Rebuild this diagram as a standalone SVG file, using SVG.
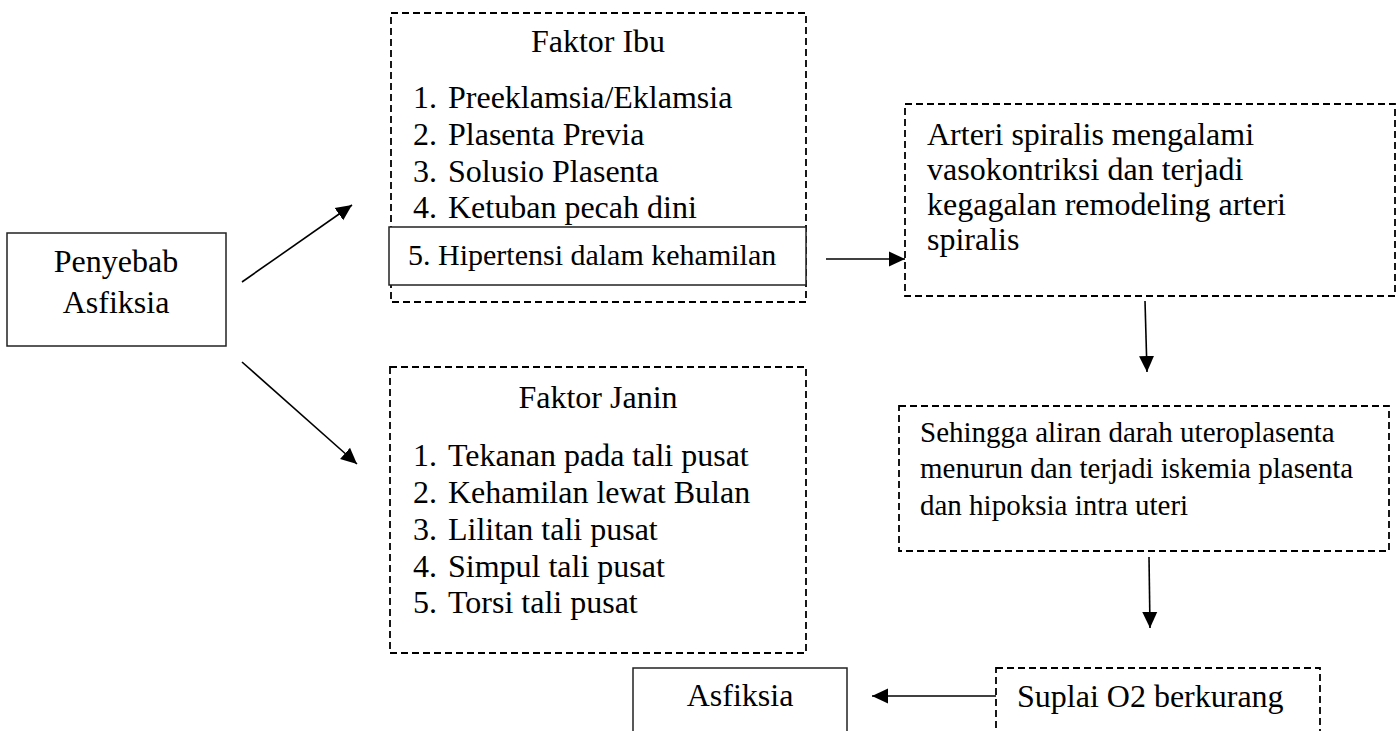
<svg xmlns="http://www.w3.org/2000/svg" width="1398" height="731" viewBox="0 0 1398 731">
<style>
text{font-family:"Liberation Serif","Times New Roman",serif;fill:#000;font-size:32px}
.dash{fill:none;stroke:#000;stroke-width:1.8;stroke-dasharray:7 4}
.solid{fill:#fff;stroke:#222;stroke-width:1.5}
.conn{fill:none;stroke:#000;stroke-width:1.6}
.c{text-anchor:middle}
.sm{font-size:30px}
.xs{font-size:29px}
</style>
<defs>
<marker id="ah" markerUnits="userSpaceOnUse" markerWidth="17" markerHeight="17" viewBox="0 0 17 17" refX="16" refY="8.5" orient="auto">
<path d="M0,1 L16,8.5 L0,16 Z" fill="#000"/>
</marker>
</defs>
<rect width="1398" height="731" fill="#fff"/>

<g id="penyebab">
<rect class="solid" x="7" y="233" width="219" height="113"/>
<text class="c" x="116" y="272">Penyebab</text>
<text class="c" x="116" y="313">Asfiksia</text>
</g>

<g id="faktor-ibu">
<rect class="dash" x="391" y="13" width="415" height="289"/>
<text class="c" x="598" y="52">Faktor Ibu</text>
<text x="413" y="108">1.</text><text x="448" y="108">Preeklamsia/Eklamsia</text>
<text x="413" y="145">2.</text><text x="448" y="145">Plasenta Previa</text>
<text x="413" y="182">3.</text><text x="448" y="182">Solusio Plasenta</text>
<text x="413" y="218">4.</text><text x="448" y="218">Ketuban pecah dini</text>
</g>

<g id="hipertensi">
<rect class="solid" x="389" y="227" width="417" height="58"/>
<text class="sm" x="408" y="265">5. Hipertensi dalam kehamilan</text>
</g>

<g id="faktor-janin">
<rect class="dash" x="390" y="367" width="416" height="286"/>
<text class="c" x="598" y="408">Faktor Janin</text>
<text x="413" y="466">1.</text><text x="448" y="466">Tekanan pada tali pusat</text>
<text x="413" y="503">2.</text><text x="448" y="503">Kehamilan lewat Bulan</text>
<text x="413" y="540">3.</text><text x="448" y="540">Lilitan tali pusat</text>
<text x="413" y="577">4.</text><text x="448" y="577">Simpul tali pusat</text>
<text x="413" y="613">5.</text><text x="448" y="613">Torsi tali pusat</text>
</g>

<g id="arteri">
<rect class="dash" x="905" y="104" width="490" height="192"/>
<text x="927" y="145">Arteri spiralis mengalami</text>
<text x="927" y="180">vasokontriksi dan terjadi</text>
<text x="927" y="215">kegagalan remodeling arteri</text>
<text x="927" y="250">spiralis</text>
</g>

<g id="sehingga">
<rect class="dash" x="899" y="406" width="490" height="145"/>
<text class="xs" x="920" y="442">Sehingga aliran darah uteroplasenta</text>
<text class="xs" x="920" y="478">menurun dan terjadi iskemia plasenta</text>
<text class="xs" x="920" y="515">dan hipoksia intra uteri</text>
</g>

<g id="suplai">
<rect class="dash" x="996" y="668" width="324" height="80"/>
<text x="1017" y="707">Suplai O2 berkurang</text>
</g>

<g id="asfiksia">
<rect class="solid" x="633" y="668" width="214" height="80"/>
<text class="c" x="740" y="706">Asfiksia</text>
</g>

<g id="connectors">
<line class="conn" x1="242" y1="282" x2="352" y2="205" marker-end="url(#ah)"/>
<line class="conn" x1="242" y1="362" x2="357" y2="464" marker-end="url(#ah)"/>
<line class="conn" x1="826" y1="259" x2="905" y2="259" marker-end="url(#ah)"/>
<line class="conn" x1="1145" y1="301" x2="1147" y2="372" marker-end="url(#ah)"/>
<line class="conn" x1="1149" y1="557" x2="1150" y2="628" marker-end="url(#ah)"/>
<line class="conn" x1="996" y1="696" x2="872" y2="696" marker-end="url(#ah)"/>
</g>
</svg>
